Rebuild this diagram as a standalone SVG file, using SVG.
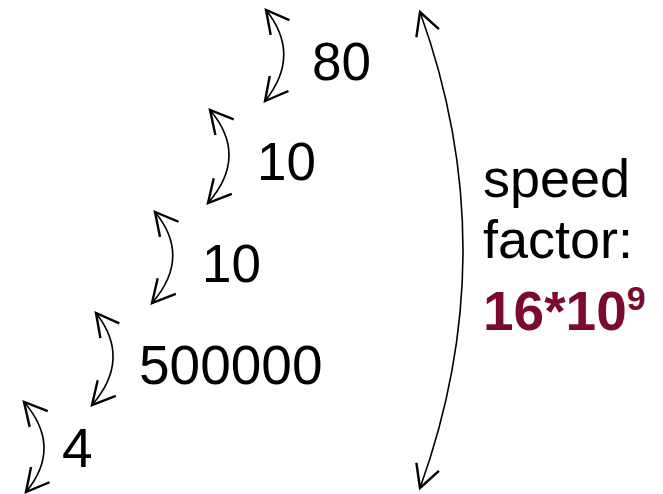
<svg xmlns="http://www.w3.org/2000/svg" width="663" height="494" viewBox="0 0 663 494">
<defs>
<marker id="ah" markerUnits="userSpaceOnUse" markerWidth="30" markerHeight="30" refX="0" refY="0" viewBox="-16 -10 20 20" orient="auto-start-reverse" overflow="visible">
<path d="M-15,-8 L0,0 L-15,8" fill="none" stroke="#000" stroke-width="1.6" stroke-linejoin="miter"/>
</marker>
<style>
.c{fill:none;stroke:#000;stroke-width:1.6;marker-start:url(#ah);marker-end:url(#ah)}
.t{font-family:"Liberation Sans",Arial,sans-serif;fill:#000}
.r{font-family:"Liberation Sans",Arial,sans-serif;font-weight:bold;fill:#7A0A30}
</style>
</defs>
<rect width="663" height="494" fill="#fff"/>
<g id="connectors">
<path class="c" d="M266,10 Q302,55 265,101"/>
<path class="c" d="M210,110 Q249,156 208,203"/>
<path class="c" d="M155,212 Q192,257 152,303"/>
<path class="c" d="M96,313 Q132,359 92,405"/>
<path class="c" d="M24,402 Q63,447 26,492"/>
<path class="c" d="M420,12 Q506,250 420,488"/>
</g>
<g id="n80"><text class="t" x="312" y="80" font-size="53">80</text></g>
<g id="n10a"><text class="t" x="257" y="180" font-size="53">10</text></g>
<g id="n10b"><text class="t" x="202" y="282" font-size="53">10</text></g>
<g id="n500000"><text class="t" x="139" y="384" font-size="55">500000</text></g>
<g id="n4"><text class="t" x="62" y="467" font-size="55">4</text></g>
<g id="speed">
<text class="t" x="483" y="197" font-size="54">speed</text>
<text class="t" x="483" y="258" font-size="54">factor:</text>
<text class="r" x="483" y="330" font-size="55">16*10<tspan font-size="34" dy="-20">9</tspan></text>
</g>
</svg>
